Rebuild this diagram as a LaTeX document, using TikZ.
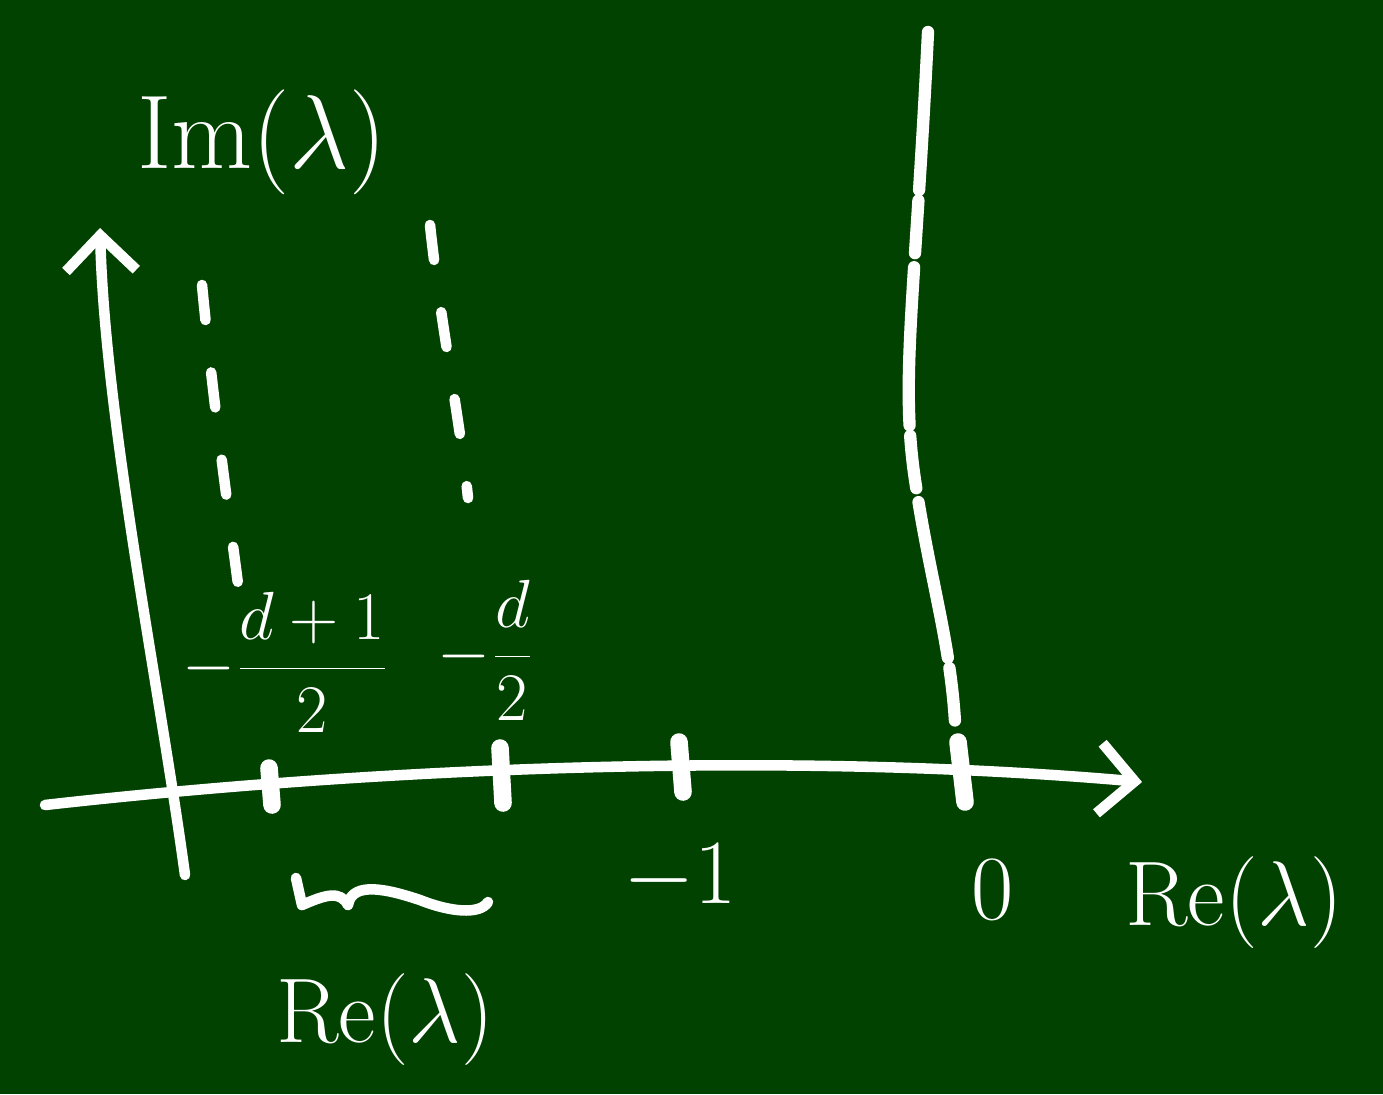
\documentclass[tikz,border=0pt]{standalone}
\usetikzlibrary{arrows.meta}
\definecolor{board}{RGB}{1,66,1}
\tikzset{
  chalk/.style={white, line width=3pt, line cap=round, line join=round},
  axisline/.style={chalk, -{Straight Barb[length=10pt,width=20pt,line width=3pt]}},
  guide/.style={chalk, dash pattern=on 10pt off 15pt},
  roughguide/.style={chalk, line width=3.5pt, dash pattern=on 45pt off 3pt on 15pt off 4pt},
  tickmark/.style={chalk, line width=5pt},
  lbl/.style={text=white, inner sep=0pt, font=\fontsize{24.88}{30}\selectfont, scale=1.05, transform shape},
  biglbl/.style={text=white, inner sep=0pt, font=\fontsize{24.88}{30}\selectfont, scale=1.2, transform shape},
  fraclbl/.style={text=white, inner sep=0pt, font=\fontsize{17.28}{21}\selectfont, scale=1.12, transform shape}
}
\begin{document}
\begin{tikzpicture}[x=0.01cm,y=-0.01cm]
\fill[board] (0,0) rectangle (1383,1094);
\useasboundingbox (0,0) rectangle (1383,1094);

% axes
\coordinate (xs) at (45,805);
\coordinate (xe) at (1142,782);
\coordinate (ys) at (185,875);
\coordinate (ye) at (100,228);
\draw[axisline] (xs) .. controls (400,765) and (800,752) .. (xe);
\draw[axisline] (ys) .. controls (160,690) and (105,420) .. (ye);

% ticks
\coordinate (t1a) at (269,768); \coordinate (t1b) at (272,805);
\coordinate (t2a) at (500,748); \coordinate (t2b) at (503,803);
\coordinate (t3a) at (679,742); \coordinate (t3b) at (683,792);
\coordinate (t4a) at (958,742); \coordinate (t4b) at (965,802);
\draw[tickmark] (t1a) -- (t1b);
\draw[tickmark] (t2a) -- (t2b);
\draw[tickmark] (t3a) -- (t3b);
\draw[tickmark] (t4a) -- (t4b);

% dashed guide lines
\coordinate (g1a) at (202,285); \coordinate (g1b) at (242,615);
\coordinate (g2a) at (430,225); \coordinate (g2b) at (468,498);
\coordinate (g3a) at (928,32); \coordinate (g3b) at (955,722);
\draw[guide] (g1a) .. controls (215,420) and (230,520) .. (g1b);
\draw[guide] (g2a) .. controls (440,320) and (460,420) .. (g2b);
\draw[roughguide] (g3a) .. controls (915,300) and (900,380) .. (915,480) .. controls (930,580) and (950,640) .. (g3b);

% labels
\node[biglbl] (im) at (262,142) {$\mathrm{Im}(\lambda)$};
\node[fraclbl] (fr1) at (286,662) {$\displaystyle -\frac{d+1}{2}$};
\node[fraclbl] (fr2) at (486,650) {$\displaystyle -\frac{d}{2}$};
\node[lbl] (m1) at (680,878) {$-1$};
\node[lbl] (zero) at (993,890) {$0$};
\node[lbl] (rex) at (1234,903) {$\mathrm{Re}(\lambda)$};
\node[lbl] (rebelow) at (385,1020) {$\mathrm{Re}(\lambda)$};

% squiggle over the interval
\coordinate (sq1) at (296,878);
\coordinate (sq2) at (488,902);
\draw[chalk] (sq1) -- (302,905) .. controls (325,895) and (340,890) .. (348,905) .. controls (352,880) and (390,890) .. (420,900) .. controls (450,912) and (480,915) .. (sq2);
\end{tikzpicture}
\end{document}
